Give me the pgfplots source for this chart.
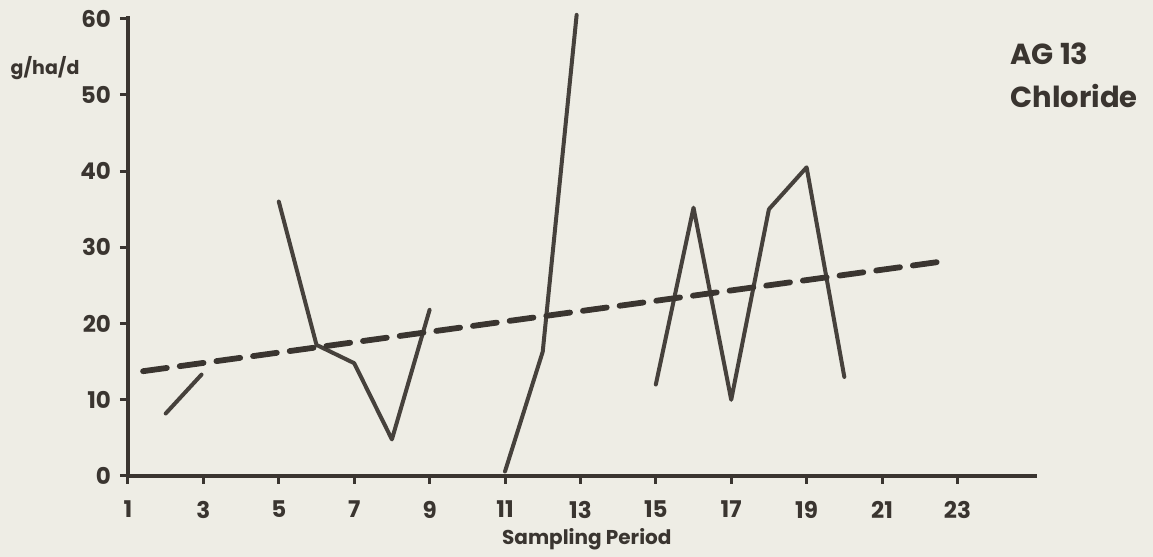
\documentclass[border=0pt]{standalone}
\usepackage{pgfplots}
\pgfplotsset{compat=1.18}
\usepackage{fontspec}
\setmainfont{Poppins}
\definecolor{paper}{RGB}{238,237,229}
\definecolor{ink}{RGB}{58,53,48}
\definecolor{lineink}{RGB}{70,65,60}
\begin{document}
\begin{tikzpicture}
\path[use as bounding box, fill=paper] (0,0) rectangle (576.5pt,278.5pt);
\begin{axis}[
  at={(64pt,40.5pt)}, anchor=south west,
  scale only axis, width=454.3pt, height=229.8pt,
  xmin=1, xmax=25.1, ymin=0, ymax=60.3,
  axis lines=left,
  axis line style={-, line width=2.1pt, draw=ink},
  xtick={1,3,...,23}, ytick={0,10,...,60},
  tick style={line width=1.5pt, draw=ink},
  major tick length=4pt,
  tick align=outside,
  /pgf/number format/assume math mode=true,
  ticklabel style={font=\fontsize{11.5}{13}\selectfont\bfseries, text=ink},
  xticklabel style={anchor=north, yshift=-5pt},
  yticklabel style={anchor=east, xshift=-1pt},
  xlabel={Sampling Period},
  xlabel style={at={(axis description cs:0.505,-0.148)}, anchor=base, font=\fontsize{10}{12}\selectfont\bfseries, text=ink},
  ylabel={g/ha/d},
  ylabel style={at={(axis description cs:-0.0913,0.888)}, anchor=center, rotate=-90, font=\fontsize{9.5}{12}\selectfont\bfseries, text=ink},
  clip=false,
]
\addplot[lineink, line width=2pt, line join=round, line cap=round] coordinates {(2,8.2) (2.95,13.3)};
\addplot[lineink, line width=2pt, line join=round, line cap=round] coordinates {(5,36) (6,17.2) (7,14.8) (8,4.8) (9,21.8)};
\addplot[lineink, line width=2pt, line join=round, line cap=round] coordinates {(11,0.6) (12,16.3) (12.9,60.5)};
\addplot[lineink, line width=2pt, line join=round, line cap=round] coordinates {(15,12) (16,35.2) (17,10) (18,35) (19,40.5) (20,13)};
\addplot[ink, line width=2.9pt, dash pattern=on 12pt off 6.5pt, line cap=round] coordinates {(1.4,13.75) (22.6,28.15)};
\end{axis}
\node[anchor=base west, inner sep=0pt, font=\fontsize{14.5}{17}\selectfont\bfseries, text=ink] at (505pt,246pt) {AG 13};
\node[anchor=base west, inner sep=0pt, font=\fontsize{14.5}{17}\selectfont\bfseries, text=ink] at (505pt,224.5pt) {Chloride};
\end{tikzpicture}
\end{document}
